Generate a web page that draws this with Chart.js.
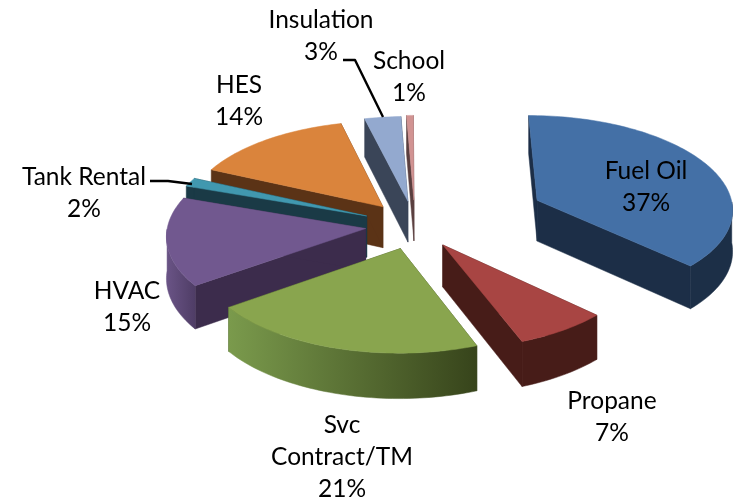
<!DOCTYPE html><html><head><meta charset="utf-8">
<script src="https://cdn.jsdelivr.net/npm/chart.js@4/dist/chart.umd.min.js"></script>
<style>html,body{margin:0;padding:0;background:#fff}canvas{display:block}</style></head><body>
<canvas id="c" width="733" height="502"></canvas>
<script>
const categories=['Fuel Oil','Propane',['Svc','Contract/TM'],'HVAC','Tank Rental','HES','Insulation','School'];
const shares=[37.2,7,21,15.2,1.5,14.3,3.2,0.6];
const explode=[135.2,49.2,50.5,49.8,52.5,51.1,51.7,53.8];
const topColors=['#4470a6','#a84543','#89a54e','#71588f','#4198af','#da843c','#93a9cf','#d19392'];
const wallColors=['#1c2e47','#471c18','#3c4a20','#3c2c4c','#1a3a46','#5b3316','#3a4558','#5a3f3f'];
const rimColors=[['#1c2f47','#1c2f47'],['#471c18','#471c18'],['#7a9a4c','#37441b'],['#6a5486','#4f3d66'],['#1a3a46','#1a3a46'],['#5b3316','#5b3316'],['#3a4558','#3a4558'],['#5a3f3f','#5a3f3f']];
const labelAnchors=[[646,171.5],[612,401],[342,425.5],[127,291],[84,177],[239,85.5],[321,20.5],[409,61.5]];
const leaders=[[[150,181],[168,181],[192,184]],[[343,60],[355,60],[383,117]]];
const view={cx:415.1,cy:225.2,k:.4746,p:.00035,R:198,depth:41.5,lineH:32};

function project(U,V,drop){const W=1-view.p*V;return [view.cx+U/W,view.cy+(view.k*V+(drop?view.depth:0))/W];}
function trace(ctx,pts){ctx.beginPath();pts.forEach((p,i)=>i?ctx.lineTo(p[0],p[1]):ctx.moveTo(p[0],p[1]));ctx.closePath();}

const pie3d={id:'pie3d',
 beforeDatasetDraw(chart,args){
  const ctx=chart.ctx,arcs=chart.getDatasetMeta(0).data;
  const order=arcs.map((a,i)=>i).sort((i,j)=>Math.sin((arcs[i].startAngle+arcs[i].endAngle)/2)-Math.sin((arcs[j].startAngle+arcs[j].endAngle)/2));
  ctx.save();
  order.forEach(i=>{
   const a=arcs[i],m=(a.startAngle+a.endAngle)/2,e=a.options.offset;
   const ax=e*Math.cos(m),ay=e*Math.sin(m),n=Math.max(6,Math.ceil((a.endAngle-a.startAngle)*40));
   const rim=[],front=[];
   for(let t=0;t<=n;t++){const b=a.startAngle+(a.endAngle-a.startAngle)*t/n,r=[ax+view.R*Math.cos(b),ay+view.R*Math.sin(b)];rim.push(r);if(Math.sin(b)>=0)front.push(r);}
   const f=(p,d)=>project(p[0],p[1],d),apex=[ax,ay];
   ctx.fillStyle=ctx.strokeStyle=wallColors[i];ctx.lineWidth=.5;
   [rim[0],rim[n]].forEach(r=>{trace(ctx,[f(apex),f(r),f(r,1),f(apex,1)]);ctx.fill();ctx.stroke();});
   if(front.length>1){
    const xs=front.map(r=>f(r)[0]),g=ctx.createLinearGradient(Math.min(...xs),0,Math.max(...xs),0);
    g.addColorStop(0,rimColors[i][0]);g.addColorStop(1,rimColors[i][1]);ctx.fillStyle=ctx.strokeStyle=g;
    trace(ctx,[...front.map(r=>f(r)),...front.slice().reverse().map(r=>f(r,1))]);ctx.fill();ctx.stroke();
   }
   ctx.fillStyle=ctx.strokeStyle=a.options.backgroundColor;
   trace(ctx,[f(apex),...rim.map(r=>f(r))]);ctx.fill();ctx.stroke();
  });
  ctx.restore();
  return false;
 },
 afterDatasetsDraw(chart){
  const ctx=chart.ctx;ctx.save();
  ctx.strokeStyle='#000';ctx.lineWidth=2.4;ctx.lineJoin='round';
  leaders.forEach(l=>{ctx.beginPath();l.forEach((p,i)=>i?ctx.lineTo(p[0],p[1]):ctx.moveTo(p[0],p[1]));ctx.stroke();});
  ctx.fillStyle='#000';ctx.font='24.5px Lato';ctx.textAlign='center';ctx.textBaseline='middle';
  categories.forEach((c,i)=>{const lines=[].concat(c,Math.round(shares[i])+'%');
   lines.forEach((s,j)=>ctx.fillText(s,labelAnchors[i][0],labelAnchors[i][1]+j*view.lineH));});
  ctx.restore();
 }};

new Chart(document.getElementById('c'),{type:'pie',plugins:[pie3d],
 data:{labels:categories,datasets:[{data:shares,backgroundColor:topColors,offset:explode,borderWidth:0}]},
 options:{responsive:false,animation:false,rotation:-.2,layout:{padding:0},
  plugins:{legend:{display:false},tooltip:{enabled:false}}}});
</script></body></html>
